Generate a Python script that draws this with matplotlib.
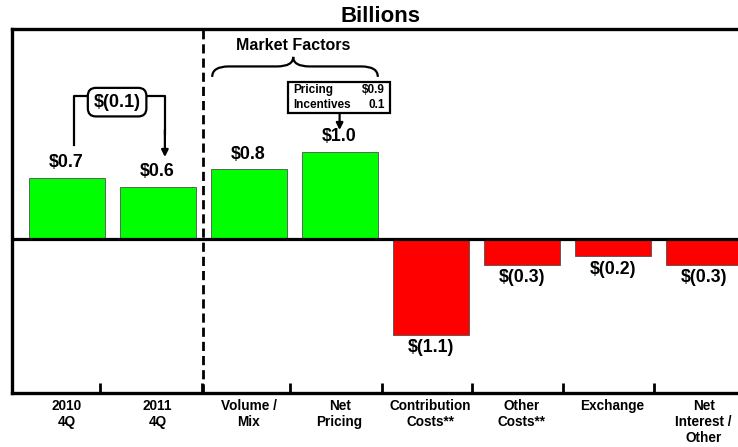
import numpy as np
import matplotlib
matplotlib.use("Agg")
import matplotlib.pyplot as plt
from matplotlib.path import Path
from matplotlib.patches import PathPatch, Rectangle

plt.rcParams['font.family'] = ['Liberation Sans', 'DejaVu Sans']
plt.rcParams['font.weight'] = 'bold'

categories = ['2010\n4Q', '2011\n4Q', 'Volume /\nMix', 'Net\nPricing',
              'Contribution\nCosts**', 'Other\nCosts**', 'Exchange',
              'Net\nInterest /\nOther']
values = [0.7, 0.6, 0.8, 1.0, -1.1, -0.3, -0.2, -0.3]
change = -0.1
pricing_items = ['Pricing', 'Incentives']
pricing_vals = ['$0.9', '0.1']


def fmt(v):
    if v < 0:
        return '$(%.1f)' % abs(v)
    return '$%.1f' % v


W, H = 738, 447
fig = plt.figure(figsize=(W / 100, H / 100), dpi=100)
ax = fig.add_axes([12 / W, 1 - 393 / H, 1 - 12 / W + 0.02, (393 - 29) / H])

x = np.arange(len(values))
colors = ['#00ff00' if v > 0 else '#ff0000' for v in values]
ax.bar(x, values, width=0.835, color=colors, edgecolor='#505050', linewidth=0.6, zorder=2)

for xi, v in zip(x, values):
    off = 15 if v > 0 else -13
    ax.annotate(fmt(v), (xi, v), xytext=(0, off), textcoords='offset pixels',
                ha='center', va='center', fontsize=12.8, fontweight='bold')

ax.set_xlim(-0.6, 7.54)
ax.set_ylim(-1.77, 2.41)

ax.axhline(0, color='black', lw=2.3, zorder=3)
ax.axvline(1.5, color='black', lw=2, ls=(0, (3.3, 1.8)), zorder=3)

# spines
for s in ['left', 'top', 'bottom']:
    ax.spines[s].set_linewidth(2.4)
ax.spines['right'].set_visible(False)

ax.set_xticks(x)
ax.set_xticklabels(categories, fontsize=9.8, fontweight='bold', linespacing=1.2)
ax.tick_params(axis='x', which='major', length=0, pad=4)
ax.set_xticks([0.37, 1.49, 2.46, 3.47, 4.45, 5.45, 6.46], minor=True)
ax.tick_params(axis='x', which='minor', direction='in', length=7, width=2)
ax.set_yticks([])

fig.text(381 / W, 1 - 16 / H, 'Billions', ha='center', va='center',
         fontsize=16, fontweight='bold')

# $(0.1) change bracket
ax.plot([0.08, 0.08, 1.08, 1.08], [1.08, 1.64, 1.64, 1.2], color='black', lw=1.6, zorder=3)
ax.annotate('', xy=(1.08, 0.94), xytext=(1.08, 1.25),
            arrowprops=dict(arrowstyle='-|>', color='black', lw=1.6, mutation_scale=10,
                            shrinkA=0, shrinkB=0))
ax.text(0.555, 1.57, fmt(change), ha='center', va='center', fontsize=13, fontweight='bold',
        zorder=4, bbox=dict(boxstyle='round,pad=0.32,rounding_size=0.45', fc='white',
                            ec='black', lw=1.6))

# Market Factors brace
x0, x1, xm = 1.60, 3.42, 2.49
ye, yh, yp = 1.86, 1.98, 2.09
r = 0.18
verts = [(x0, ye), (x0, yh), (x0 + r, yh), (xm - r, yh), (xm, yh), (xm, yp),
         (xm, yh), (xm + r, yh), (x1 - r, yh), (x1, yh), (x1, ye)]
codes = [Path.MOVETO, Path.CURVE3, Path.CURVE3, Path.LINETO, Path.CURVE3, Path.CURVE3,
         Path.CURVE3, Path.CURVE3, Path.LINETO, Path.CURVE3, Path.CURVE3]
ax.add_patch(PathPatch(Path(verts, codes), fc='none', ec='black', lw=1.6, zorder=3))
ax.text(xm, 2.22, 'Market Factors', ha='center', va='center', fontsize=11.5, fontweight='bold')

# pricing breakdown box
ax.add_patch(Rectangle((2.43, 1.44), 1.12, 0.36, fc='white', ec='black', lw=1.6, zorder=3))
for yy, lab, val in zip([1.71, 1.54], pricing_items, pricing_vals):
    ax.text(2.49, yy, lab, ha='left', va='center', fontsize=8.5, fontweight='bold', zorder=4)
    ax.text(3.5, yy, val, ha='right', va='center', fontsize=8.5, fontweight='bold', zorder=4)
ax.annotate('', xy=(3.0, 1.25), xytext=(3.0, 1.44),
            arrowprops=dict(arrowstyle='-|>', color='black', lw=1.6, mutation_scale=10,
                            shrinkA=0, shrinkB=0))

fig.savefig('out.png', dpi=100)
